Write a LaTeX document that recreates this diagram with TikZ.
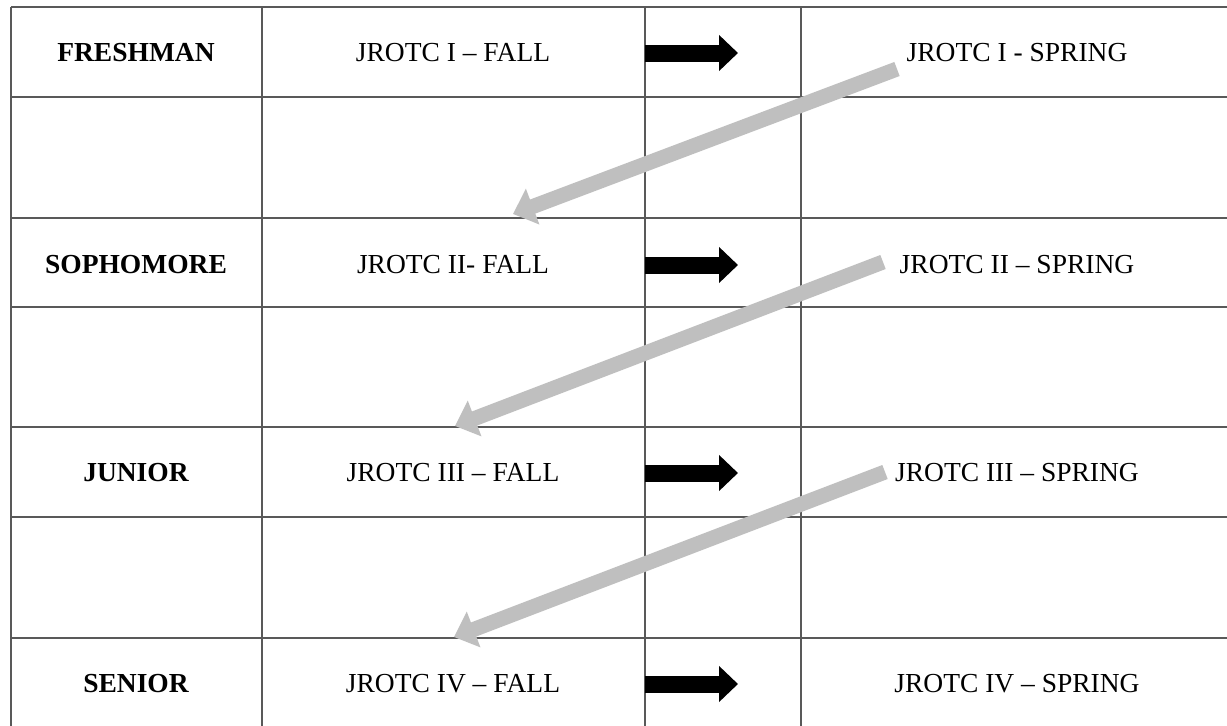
\documentclass[tikz,border=0pt]{standalone}
\usepackage{fontspec}
\setmainfont{Liberation Serif}
\usetikzlibrary{arrows.meta}
\usetikzlibrary{positioning}
\tikzset{
    grade/.style={
           font=\fontsize{27.5}{33}\selectfont\bfseries,
           inner sep=2pt,
           text centered,
           },
    course/.style={
           font=\fontsize{27.5}{33}\selectfont,
           inner sep=2pt,
           text centered,
           },
    rule/.style={
           draw=black!65, line width=1.3pt,
           },
    fwd/.style={
           -{Triangle[length=19pt,width=35pt]},
           line width=17pt, black,
           },
    back/.style={
           -{Triangle[length=21pt,width=37pt]},
           line width=15pt, black!25,
           },
}

\begin{document}
\begin{tikzpicture}[x=1pt, y=-1pt]
	\useasboundingbox (0,0) rectangle (1227,726);
	\fill[white] (0,0) rectangle (1227,726);

	% grid of the table
	\draw[rule] (11,7) -- (1227,7)  (11,97) -- (1227,97)
	            (11,218) -- (1227,218)  (11,307) -- (1227,307)
	            (11,427) -- (1227,427)  (11,517) -- (1227,517)
	            (11,638) -- (1227,638);
	\draw[rule] (11,7) -- (11,726)  (262,7) -- (262,726)
	            (645,7) -- (645,726)  (801,7) -- (801,726);

	% year names
	\node[grade] (fresh) at (136,53) {FRESHMAN};
	\node[grade] (soph) at (136,265) {SOPHOMORE};
	\node[grade] (jun) at (136,473) {JUNIOR};
	\node[grade] (sen) at (136,684) {SENIOR};

	% fall courses
	\node[course] (fall1) at (453,53) {JROTC I -- FALL};
	\node[course] (fall2) at (453,265) {JROTC II- FALL};
	\node[course] (fall3) at (453,473) {JROTC III -- FALL};
	\node[course] (fall4) at (453,684) {JROTC IV -- FALL};

	% spring courses
	\node[course] (spr1) at (1017,53) {JROTC I - SPRING};
	\node[course] (spr2) at (1017,265) {JROTC II -- SPRING};
	\node[course] (spr3) at (1017,473) {JROTC III -- SPRING};
	\node[course] (spr4) at (1017,684) {JROTC IV -- SPRING};

	% arrow ends
	\coordinate (go1) at (645,53);   \coordinate (to1) at (738,53);
	\coordinate (go2) at (645,265);  \coordinate (to2) at (738,265);
	\coordinate (go3) at (645,473);  \coordinate (to3) at (738,473);
	\coordinate (go4) at (645,684);  \coordinate (to4) at (738,684);

	\coordinate (up1) at (897,69);   \coordinate (down1) at (513,214);
	\coordinate (up2) at (883,262);  \coordinate (down2) at (455,426);
	\coordinate (up3) at (885,472);  \coordinate (down3) at (454,637);

	\draw[back] (up1) -- (down1);
	\draw[back] (up2) -- (down2);
	\draw[back] (up3) -- (down3);

	\draw[fwd] (go1) -- (to1);
	\draw[fwd] (go2) -- (to2);
	\draw[fwd] (go3) -- (to3);
	\draw[fwd] (go4) -- (to4);

\end{tikzpicture}
\end{document}
